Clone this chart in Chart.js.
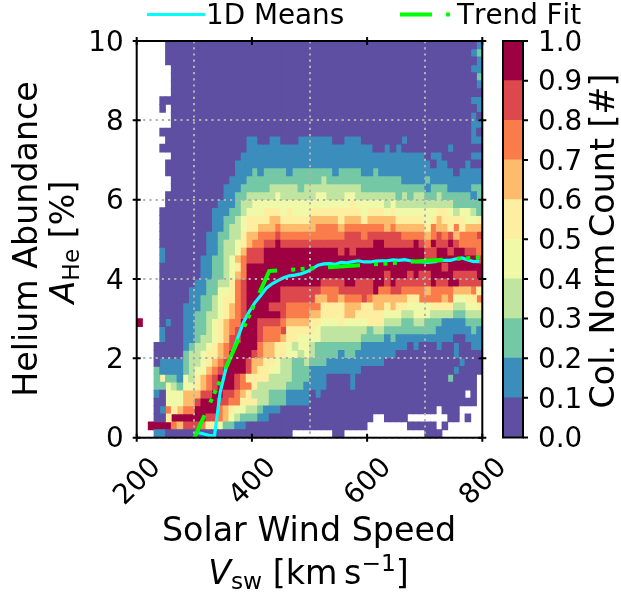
<!DOCTYPE html>
<html>
<head>
<meta charset="utf-8">
<title>Helium Abundance vs Solar Wind Speed</title>
<script src="https://cdn.jsdelivr.net/npm/chart.js@4/dist/chart.umd.js"></script>
<style>
  body { margin: 0; background: #fff; }
  #wrap { position: relative; width: 621px; height: 592px; }
  canvas { position: absolute; top: 0; }
  #mainChart { left: 0; }
  #colorbar { left: 480px; }
</style>
</head>
<body>
<div id="wrap">
  <canvas id="mainChart" width="621" height="592"></canvas>
  <canvas id="colorbar" width="141" height="592"></canvas>
</div>
<script>
// Column-normalised count level per cell (0-9, "." = no data).
// One string per row, top row is A_He 9.8-10, columns run 200-800 in 10 km/s bins.
const countLevels = [
  ".....00000 0000000000 0000000000 0000000000 0000000000 0000000001",
  ".....00000 0000000000 0000000000 0000000000 0000000000 0000000012",
  ".....00000 0000000000 0000000000 0000000000 0000000000 0000000001",
  "......0000 0000000000 0000000000 0000000000 0000000000 0000000011",
  "......0000 0000000000 0000000000 0000000000 0000000000 0000000002",
  "......0000 0000000000 0000000000 0000000000 0000000000 0000000001",
  "......0000 0000000000 0000000000 0000000000 0000000000 0000000000",
  "....000000 0000000000 0000000000 0000000000 0000000000 0000000011",
  "....0.0000 0000000000 0000000000 0000000000 0000000000 0000000001",
  "......0000 0000000000 0000000000 0000000000 0000000000 0000000010",
  "......0000 0000000000 0000000000 0000000000 0000000000 0000000011",
  "....000000 0000000000 0000000000 0000000000 0000000000 0000000010",
  ".....00000 0000000001 1001100011 1111001110 0000001000 0000000011",
  "....000000 0000000001 1111111111 1111111111 1001010000 0000100000",
  "......0000 0000000011 1111111111 1111111111 1111111111 0110000011",
  ".....00000 0000000111 1111111111 1111111111 1111111111 1011000100",
  ".....00000 0000000111 2122221222 2222122221 1211111111 1111101111",
  "......0000 0000001112 2222222222 2232222222 2222221111 2111111111",
  "......0000 0000011122 2223333323 3333333332 2222222222 1222111122",
  ".....00000 0000011223 3333433333 3443334433 3333323233 2232222212",
  ".....00000 0000111233 4444444444 4444444544 4443433333 3333322222",
  "....000000 0001112234 4455545444 5555555554 5554544444 4455434432",
  "....000000 0001122345 5556655555 6666656665 6666655555 4565555445",
  "....000000 0001123345 5666766666 6777767777 7776766666 5766575666",
  "....000000 0011223356 6777877777 7777778887 8888887777 6787867778",
  "....000000 0011233456 7788988888 8888888888 8998888898 7988987777",
  "....100000 0011233468 8899999999 9999989899 9999999999 8899899887",
  "....100000 0112234678 8899999999 9999999999 9999999999 8899999998",
  "....000000 0112234579 9999999999 9999999999 9999999999 9998999999",
  "....000000 0112234679 9999999999 9999999999 9998999898 8999988889",
  "....000000 1122335789 9999999999 9988889988 8998988888 8988998888",
  "....000001 1122445789 9999988888 8877788888 8977887777 6777766675",
  "....000001 1223455789 9999988888 8667767778 7666666557 7776744557",
  "....000011 1223456789 9998887777 7755556665 5665655444 4555533445",
  "....000011 2233456789 9999987777 6655556655 5554443344 4333322333",
  "9...010011 2234567799 9888876666 5544454444 5553332233 2221111222",
  "....100011 2234567899 9877785555 5433333333 2332222222 2211111121",
  "....100011 2334568899 9877765544 4433333332 2221211111 1111100111",
  "...0000012 3345678999 9766554344 3222222221 1111111010 0010010011",
  "...0000023 3455679999 8766554434 3222212211 1111100000 0000010000",
  "...0111123 3456789998 6655433223 2221111111 1110000000 0000001000",
  "...2111123 4467899998 6554433222 1111111110 0000000000 0000010000",
  "...2522143 5678999875 5553333222 1110000100 0000000000 000020000.",
  "...2243244 5678999877 5333332221 1110000100 0000000000 000000000.",
  "...1044466 6889988765 3332221111 0100000000 0000000000 0000000.0.",
  "...0044466 8999887755 5332221111 0000000000 0000000000 000000000.",
  "...0175677 9999765443 3211100000 0000000000 0000000000 00.000....",
  "...0059999 9988764322 2110000000 0000000000 0..0000... ....00.0..",
  "..99997688 8755422110 0000000000 0000000000 .......000 00.0......",
  "...1100000 0000000000 0000000... ....00.... .......... 000......."
];

const levelEdges = [0, 0.1, 0.2, 0.3, 0.4, 0.5, 0.6, 0.7, 0.8, 0.9, 1];
const levelColors = ["#5e4fa2", "#3b8ebc", "#75c8a5", "#bfe5a0", "#f0f9a8", "#feee9f", "#fdbb6c", "#f97c4a", "#dc484c", "#9e0142"];

// 1D means per speed bin
const meanSpeeds = [305, 315, 325, 335, 345, 355, 365, 375, 385, 395, 405, 415, 425, 435, 445, 455, 465, 475, 485, 495, 505, 515, 525, 535, 545, 555, 565, 575, 585, 595, 605, 615, 625, 635, 645, 655, 665, 675, 685, 695, 705, 715, 725, 735, 745, 755, 765, 775, 785, 795];
const meanAbundance = [0.13, 0.1, 0.06, 0.04, 1.15, 1.75, 2.1, 2.5, 2.9, 3.17, 3.4, 3.58, 3.77, 3.88, 3.96, 4.03, 4.08, 4.1, 4.13, 4.18, 4.26, 4.35, 4.38, 4.39, 4.37, 4.42, 4.41, 4.44, 4.46, 4.43, 4.43, 4.45, 4.46, 4.46, 4.48, 4.47, 4.49, 4.46, 4.44, 4.43, 4.42, 4.44, 4.46, 4.47, 4.47, 4.51, 4.53, 4.48, 4.44, 4.45];

// Piecewise trend fit
const trendSpeeds = [295, 430, 800];
const trendAbundance = [-0.17, 4.2, 4.55];

const FONT_SIZE = 27.8;
const TITLE_SIZE = 33.3;
const FONT = `${FONT_SIZE}px "DejaVu Sans"`;
const TITLE = `${TITLE_SIZE}px "DejaVu Sans"`;
const ITALIC = `italic ${TITLE_SIZE}px "DejaVu Sans"`;
const SMALL = `${TITLE_SIZE * 0.7}px "DejaVu Sans"`;
const trendDash = [32, 14, 4, 5.5, 4, 5.5, 4, 14];

// Bars per colour level, floating between the row edges
function buildCellDatasets() {
  const cells = levelColors.map(() => []);
  countLevels.forEach((row, r) => {
    const chars = row.replace(/ /g, "");
    for (let c = 0; c < chars.length; c++) {
      if (chars[c] === ".") continue;
      const top = 10 - r * 0.2;
      cells[+chars[c]].push({ x: 205 + c * 10, y: [top - 0.2, top] });
    }
  });
  return levelColors.map((color, i) => ({
    type: "bar",
    label: "level " + i,
    data: cells[i],
    backgroundColor: color,
    borderWidth: 0,
    inflateAmount: 0.4,
    grouped: false,
    barPercentage: 1,
    categoryPercentage: 1,
    order: 2,
  }));
}

// Draws mixed font runs centred on (cx, y), optionally rotated
function drawRuns(ctx, runs, cx, y, rotate) {
  ctx.save();
  ctx.translate(cx, y);
  if (rotate) ctx.rotate(-Math.PI / 2);
  ctx.fillStyle = "#000";
  ctx.textBaseline = "alphabetic";
  ctx.textAlign = "left";
  let width = 0;
  runs.forEach((r) => {
    ctx.font = r.font || TITLE;
    width += ctx.measureText(r.text).width;
  });
  let x = -width / 2;
  runs.forEach((r) => {
    ctx.font = r.font || TITLE;
    ctx.fillText(r.text, x, r.dy || 0);
    x += ctx.measureText(r.text).width;
  });
  ctx.restore();
}

const mainDecor = {
  id: "mainDecor",
  afterDraw(chart) {
    const { ctx, chartArea: a, scales } = chart;
    ctx.save();

    // frame with in-out ticks on all four sides
    ctx.strokeStyle = "#000";
    ctx.lineWidth = 2;
    ctx.strokeRect(a.left, a.top, a.right - a.left, a.bottom - a.top);
    ctx.beginPath();
    scales.x.ticks.forEach((t) => {
      const px = scales.x.getPixelForValue(t.value);
      ctx.moveTo(px, a.top - 4); ctx.lineTo(px, a.top + 4);
      ctx.moveTo(px, a.bottom - 4); ctx.lineTo(px, a.bottom + 4);
    });
    scales.y.ticks.forEach((t) => {
      const py = scales.y.getPixelForValue(t.value);
      ctx.moveTo(a.left - 4, py); ctx.lineTo(a.left + 4, py);
      ctx.moveTo(a.right - 4, py); ctx.lineTo(a.right + 4, py);
    });
    ctx.stroke();

    // legend
    ctx.lineWidth = 3;
    ctx.strokeStyle = "#00ffff";
    ctx.beginPath(); ctx.moveTo(147, 14.5); ctx.lineTo(205, 14.5); ctx.stroke();
    ctx.lineWidth = 4;
    ctx.strokeStyle = "#00ff00";
    ctx.setLineDash(trendDash);
    ctx.beginPath(); ctx.moveTo(400, 14.5); ctx.lineTo(451, 14.5); ctx.stroke();
    ctx.setLineDash([]);
    ctx.fillStyle = "#000";
    ctx.font = FONT;
    ctx.fontKerning = "none";
    ctx.fillText("1D Means", 206, 24);
    ctx.fillText("Trend Fit", 457, 24);
    ctx.restore();

    // axis titles
    drawRuns(ctx, [{ text: "Solar Wind Speed" }], 309, 541);
    drawRuns(ctx, [
      { text: "V", font: ITALIC },
      { text: "sw", font: SMALL, dy: 5 },
      { text: " [km\u2009s" },
      { text: "\u22121", font: SMALL, dy: -13 },
      { text: "]" },
    ], 308.5, 584);
    drawRuns(ctx, [{ text: "Helium Abundance" }], 36.5, 239, true);
    drawRuns(ctx, [
      { text: "A", font: ITALIC },
      { text: "He", font: SMALL, dy: 5 },
      { text: " [%]" },
    ], 73.5, 242, true);
  },
};

new Chart(document.getElementById("mainChart"), {
  data: {
    datasets: [
      {
        type: "line",
        label: "Trend Fit",
        data: trendSpeeds.map((s, i) => ({ x: s, y: trendAbundance[i] })),
        borderColor: "#00ff00",
        borderWidth: 4,
        borderDash: trendDash,
        pointRadius: 0,
        order: 0,
      },
      {
        type: "line",
        label: "1D Means",
        data: meanSpeeds.map((s, i) => ({ x: s, y: meanAbundance[i] })),
        borderColor: "#00ffff",
        borderWidth: 3.2,
        pointRadius: 0,
        order: 1,
      },
      ...buildCellDatasets(),
    ],
  },
  options: {
    responsive: false,
    animation: false,
    layout: { padding: { top: 41, right: 138.7, left: 0, bottom: 0 } },
    plugins: { legend: { display: false }, tooltip: { enabled: false } },
    scales: {
      x: {
        type: "linear",
        min: 200,
        max: 800,
        offset: false,
        afterFit: (s) => { s.height = 154.3; },
        grid: { z: 1, color: "#b0b0b0", lineWidth: 2, drawTicks: false },
        border: { display: false, dash: [2.2, 4] },
        ticks: {
          stepSize: 200,
          color: "#000",
          font: { family: "DejaVu Sans", size: FONT_SIZE },
          maxRotation: 45,
          minRotation: 45,
          labelOffset: 20,
          padding: 14,
        },
      },
      y: {
        min: 0,
        max: 10,
        afterFit: (s) => { s.width = 136.7; },
        grid: { z: 1, color: "#b0b0b0", lineWidth: 2, drawTicks: false },
        border: { display: false, dash: [2.2, 4] },
        ticks: {
          stepSize: 2,
          color: "#000",
          font: { family: "DejaVu Sans", size: FONT_SIZE },
          padding: 13,
          labelOffset: 2.5,
        },
      },
    },
  },
  plugins: [mainDecor],
});

const colorbarDecor = {
  id: "colorbarDecor",
  afterDraw(chart) {
    const { ctx, chartArea: a, scales } = chart;
    ctx.save();
    ctx.strokeStyle = "#000";
    ctx.lineWidth = 2;
    ctx.strokeRect(a.left, a.top, a.right - a.left, a.bottom - a.top);
    ctx.beginPath();
    scales.y.ticks.forEach((t) => {
      const py = scales.y.getPixelForValue(t.value);
      ctx.moveTo(a.right, py); ctx.lineTo(a.right + 5, py);
    });
    ctx.stroke();
    ctx.restore();
    drawRuns(ctx, [{ text: "Col. Norm\u2009Count [#]" }], 134, 241, true);
  },
};

new Chart(document.getElementById("colorbar"), {
  type: "bar",
  data: {
    labels: ["count"],
    datasets: levelColors.map((color, i) => ({
      label: levelEdges[i].toFixed(1),
      data: [[levelEdges[i], levelEdges[i + 1]]],
      backgroundColor: color,
      borderWidth: 0,
      grouped: false,
      barPercentage: 1,
      categoryPercentage: 1,
    })),
  },
  options: {
    responsive: false,
    animation: false,
    layout: { padding: { top: 41, left: 23, bottom: 154.5, right: 0 } },
    plugins: { legend: { display: false }, tooltip: { enabled: false } },
    scales: {
      x: { display: false },
      y: {
        position: "right",
        min: 0,
        max: 1,
        afterFit: (s) => { s.width = 98; },
        grid: { display: false, drawTicks: false },
        border: { display: false },
        ticks: {
          stepSize: 0.1,
          color: "#000",
          font: { family: "DejaVu Sans", size: FONT_SIZE },
          padding: 15,
          labelOffset: 2.5,
          autoSkip: false,
          callback: (v) => v.toFixed(1),
        },
      },
    },
  },
  plugins: [colorbarDecor],
});
</script>
</body>
</html>
